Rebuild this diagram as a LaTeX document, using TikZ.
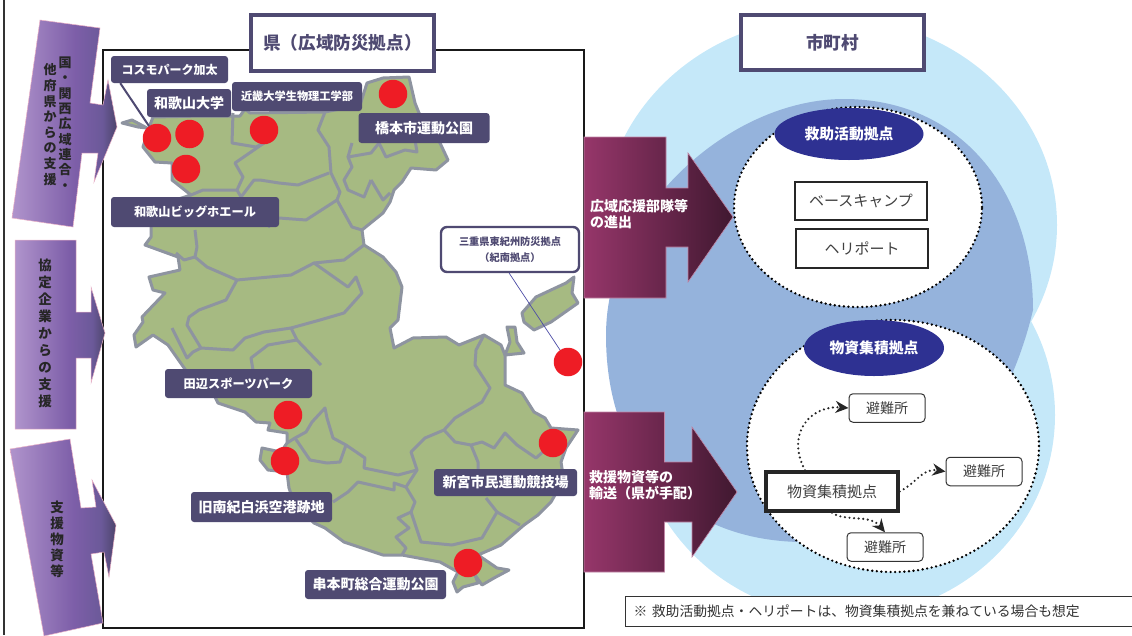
\documentclass[tikz,border=0pt]{standalone}
\usepackage{xcolor}
\usepackage{fontspec}
\setmainfont{Noto Sans CJK JP}
\usepackage{tikz}
\usetikzlibrary{positioning, shapes.geometric, arrows.meta}

\definecolor{tagblue}{HTML}{4F4A72}
\definecolor{landgreen}{HTML}{A6BA82}
\definecolor{cityline}{HTML}{8E94A0}
\definecolor{paleblue}{HTML}{C5E8F9}
\definecolor{midblue}{HTML}{95B3DC}
\definecolor{navy}{HTML}{2E3192}
\definecolor{dotred}{HTML}{EE1C25}
\definecolor{plum}{HTML}{96366A}
\definecolor{darkplum}{HTML}{401830}
\pgfdeclarehorizontalshading{purplefade}{100bp}{rgb(0bp)=(0.69,0.58,0.80);rgb(25bp)=(0.69,0.58,0.80);rgb(55bp)=(0.49,0.37,0.66);rgb(68bp)=(0.42,0.35,0.60);rgb(75bp)=(0.30,0.27,0.42);rgb(100bp)=(0.30,0.27,0.42)}

\begin{document}
\begin{tikzpicture}[x=1pt,y=-1pt]
	\tikzstyle{sitetag}=[fill=tagblue,text=white,rounded corners=3pt,inner sep=0pt,font=\fontsize{14}{16}\selectfont\bfseries]
	\tikzstyle{reddot}=[ellipse,fill=dotred,inner sep=0pt,minimum width=28.5pt,minimum height=28.5pt]
	\tikzstyle{titlebox}=[draw=tagblue,line width=3.2pt,fill=white,text=tagblue,inner sep=0pt,font=\fontsize{17.6}{20}\selectfont\bfseries]
	\tikzstyle{bighub}=[ellipse,draw=black,fill=white,line width=2.6pt,dash pattern=on 0pt off 4.6pt,line cap=round,inner sep=0pt]
	\tikzstyle{hubname}=[ellipse,fill=navy,text=white,inner sep=0pt,font=\fontsize{14.8}{17}\selectfont\bfseries]
	\tikzstyle{campbox}=[draw=black!85,line width=2.8pt,fill=white,text=black!75,inner sep=0pt,font=\fontsize{15}{18}\selectfont]
	\tikzstyle{shelter}=[draw=black!80,fill=white,rounded corners=4pt,line width=1pt,text=black!75,minimum width=76pt,minimum height=28.5pt,inner sep=0pt,font=\fontsize{14}{16}\selectfont]
	\tikzstyle{dotarrow}=[line width=2.4pt,dash pattern=on 0pt off 4.6pt,line cap=round,black!85,-{Stealth[length=13pt,width=12pt]}]
	\tikzstyle{cityborder}=[draw=cityline,line width=3pt,line join=round]
	\tikzstyle{coast}=[fill=landgreen,draw=cityline,line width=3pt,line join=round]
	\tikzstyle{supportarrow}=[shading=purplefade,draw=white!70!purple,line width=0.5pt]
	\tikzstyle{marcharrow}=[left color=plum,right color=darkplum,draw=plum!60!white,line width=0.6pt]
	\tikzstyle{sidetext}=[align=center,inner sep=0pt,text=black!85,font=\fontsize{13.5}{16}\selectfont\bfseries]
	\tikzstyle{marchtext}=[align=left,inner sep=0pt,anchor=west,text=white,font=\fontsize{14}{16}\selectfont\bfseries]

	\useasboundingbox (0,0) rectangle (1132,635);
	\draw[line width=1.4pt,black!80] (4,0) -- (4,635);

	% city area
	\fill[paleblue] (830,225) ellipse [x radius=227,y radius=208];
	\fill[paleblue] (845,415) ellipse [x radius=210,y radius=202];
	\fill[midblue] (1033,310) .. controls (1033,190) and (960,99) .. (844,99) .. controls (730,99) and (606,210) .. (606,335) .. controls (606,470) and (690,540) .. (800,542) .. controls (900,545) and (1000,450) .. (1033,310) -- cycle;

	% prefecture frame
	\draw[line width=2.8pt,black!90,fill=white] (103,50) rectangle (584,628);

	% map
	\draw[coast] (122,123) -- (132,120) -- (147,128) -- (138,127) -- cycle;
	\draw[coast] (150,125) -- (153,117) -- (203,116) -- (240,116) -- (245,109) -- (250,113) -- (325,112) -- (360,105) -- (367,83) -- (383,78) -- (409,77) -- (415,103) -- (419,113) -- (440,143) -- (448,160) -- (436,170) -- (411,168) -- (402,182) -- (394,190) -- (390,202) -- (383,213) -- (362,230) -- (364,245) -- (383,257) -- (396,272) -- (402,287) -- (398,320) -- (390,328) -- (394,348) -- (413,338) -- (446,337) -- (459,345) -- (484,335) -- (501,345) -- (505,355) -- (505,385) -- (522,393) -- (534,412) -- (545,418) -- (551,428) -- (578,430) -- (566,448) -- (561,462) -- (563,475) -- (555,495) -- (551,502) -- (538,515) -- (524,525) -- (501,545) -- (478,555) -- (497,568) -- (509,570) -- (494,578) -- (482,585) -- (475,575) -- (478,583) -- (463,587) -- (457,592) -- (453,582) -- (458,572) -- (440,562) -- (402,555) -- (383,555) -- (344,542) -- (325,528) -- (314,523) -- (295,505) -- (289,488) -- (287,472) -- (268,470) -- (260,460) -- (262,448) -- (281,452) -- (287,443) -- (287,433) -- (268,430) -- (270,423) -- (256,422) -- (245,412) -- (218,403) -- (214,395) -- (187,372) -- (168,345) -- (153,335) -- (136,347) -- (134,335) -- (143,322) -- (142,317) -- (165,293) -- (153,290) -- (149,277) -- (180,270) -- (178,257) -- (145,245) -- (151,237) -- (151,227) -- (160,205) -- (191,195) -- (172,180) -- (172,163) -- (155,162) -- (143,147) -- cycle;
	\draw[coast] (522,313) -- (536,297) -- (566,283) -- (574,277) -- (572,293) -- (578,303) -- (561,315) -- (551,322) -- (534,330) -- (524,322) -- cycle;
	\draw[coast] (507,327) -- (515,327) -- (517,342) -- (524,353) -- (505,355) -- (510,342) -- cycle;

	% city borders
	\draw[cityborder] (325,112) -- (318,130) -- (329,147) -- (331,173) -- (340,192) -- (337,200) -- (352,227) -- (362,230);
	\draw[cityborder] (337,200) -- (306,220) -- (279,218) -- (268,227);
	\draw[cityborder] (241,197) -- (254,180) -- (260,180) -- (279,183) -- (298,185) -- (329,173);
	\draw[cityborder] (264,143) -- (235,163) -- (243,177) -- (237,190) -- (203,190) -- (191,195);
	\draw[cityborder] (233,113) -- (232,143) -- (256,147) -- (264,143) -- (270,125);
	\draw[cityborder] (241,197) -- (237,190);
	\draw[cityborder] (195,230) -- (197,247) -- (195,257) -- (207,267) -- (237,280) -- (291,275) -- (314,263) -- (344,260) -- (364,245);
	\draw[cityborder] (176,253) -- (184,260) -- (195,257);
	\draw[cityborder] (237,280) -- (226,300) -- (199,310) -- (189,317) -- (187,325) -- (201,348) -- (233,350) -- (245,338) -- (264,332) -- (291,328) -- (297,340) -- (321,365);
	\draw[cityborder] (172,328) -- (187,358) -- (193,352) -- (201,348);
	\draw[cityborder] (314,263) -- (348,287) -- (356,277) -- (362,293) -- (344,313) -- (320,320) -- (291,328);
	\draw[cityborder] (297,340) -- (268,345) -- (251,358) -- (253,370);
	\draw[cityborder] (484,335) -- (476,350) -- (475,365) -- (490,388) -- (482,402) -- (455,418) -- (444,430) -- (425,438) -- (411,452) -- (417,470) -- (398,475) -- (364,468) -- (365,458) -- (346,445) -- (333,438) -- (327,418) -- (325,408) -- (312,422) -- (306,432) -- (295,438) -- (287,443);
	\draw[cityborder] (346,445) -- (340,462) -- (327,463) -- (310,460) -- (295,438);
	\draw[cityborder] (417,470) -- (406,487) -- (394,483) -- (394,490) -- (358,482) -- (348,492) -- (333,502);
	\draw[cityborder] (406,487) -- (415,502) -- (411,512) -- (398,518) -- (409,528) -- (396,537) -- (406,548) -- (402,555);
	\draw[cityborder] (411,512) -- (421,542) -- (452,545) -- (482,538) -- (497,512) -- (520,525);
	\draw[cityborder] (486,498) -- (497,512);
	\draw[cityborder] (444,430) -- (455,442) -- (471,445) -- (482,442) -- (494,448) -- (505,433) -- (517,445) -- (536,458) -- (545,450);
	\draw[cityborder] (471,445) -- (478,462) -- (478,475);
	\draw[cityborder] (371,180) -- (364,197) -- (348,190) -- (344,180) -- (352,167) -- (348,157) -- (371,153) -- (379,143) -- (386,157) -- (405,150) -- (417,152) -- (415,140);
	\draw[cityborder] (371,180) -- (383,200) -- (390,193);
	\draw[cityborder] (352,143) -- (348,157);

	% red sites
	\node[reddot](d1) at (157,138) {};
	\node[reddot](d2) at (189.5,134) {};
	\node[reddot](d3) at (186,169) {};
	\node[reddot](d4) at (264,130) {};
	\node[reddot](d5) at (393,94) {};
	\node[reddot](d6) at (568,362) {};
	\node[reddot](d7) at (288,415) {};
	\node[reddot](d8) at (285,461) {};
	\node[reddot](d9) at (553,443) {};
	\node[reddot](d10) at (468,563) {};

	% site names
	\node[sitetag,minimum width=117pt,minimum height=27pt,font=\fontsize{12}{14}\selectfont\bfseries](t1) at (169.5,69.5) {コスモパーク加太};
	\node[sitetag,minimum width=84pt,minimum height=28pt](t2) at (189,103) {和歌山大学};
	\node[sitetag,minimum width=130pt,minimum height=29pt,font=\fontsize{11.2}{13}\selectfont\bfseries](t3) at (297,96.5) {近畿大学生物理工学部};
	\node[sitetag,minimum width=131pt,minimum height=30pt](t4) at (424,128) {橋本市運動公園};
	\node[sitetag,minimum width=168pt,minimum height=30pt,font=\fontsize{12.2}{14}\selectfont\bfseries](t5) at (195,212) {和歌山ビッグホエール};
	\node[sitetag,minimum width=147pt,minimum height=29pt,font=\fontsize{12.2}{14}\selectfont\bfseries](t6) at (238.5,383.5) {田辺スポーツパーク};
	\node[sitetag,minimum width=141pt,minimum height=30pt](t7) at (261.5,507) {旧南紀白浜空港跡地};
	\node[sitetag,minimum width=143pt,minimum height=27pt](t8) at (505.5,482.5) {新宮市民運動競技場};
	\node[sitetag,minimum width=141pt,minimum height=29pt](t9) at (375.5,584.5) {串本町総合運動公園};
	\node[draw=tagblue,line width=2.4pt,fill=white,rounded corners=6pt,text=tagblue,align=center,inner sep=0pt,minimum width=138pt,minimum height=45pt,font=\fontsize{10.2}{16.5}\selectfont\bfseries](t10) at (510,249.5) {三重県東紀州防災拠点\\（紀南拠点）};
	\draw[tagblue,line width=2pt] (t1.south west) ++(9.5,0) -- (d1);
	\draw[blue!50!black!70,line width=0.7pt] (t10.-92) -- (d6);

	% title boxes
	\node[titlebox,minimum width=183pt,minimum height=56pt](pref) at (342.5,43) {県（広域防災拠点）};
	\node[titlebox,minimum width=183pt,minimum height=55pt](city) at (832.5,42.5) {市町村};

	% support arrows
	\path[supportarrow] (40,20) -- (100,28) -- (90,103) -- (103,105) -- (108,80) -- (117,127) -- (94,182) -- (98,153) -- (82,153) -- (73,227) -- (12,218) -- cycle;
	\path[supportarrow] (15,240) -- (76,240) -- (76,312) -- (91,312) -- (91,287) -- (105,333) -- (91,383) -- (91,358) -- (76,358) -- (76,429) -- (15,429) -- cycle;
	\path[supportarrow] (10,449) -- (70,439) -- (81,508) -- (96,507) -- (92,480) -- (116,525) -- (109,577) -- (104,552) -- (91,554) -- (103,623) -- (44,636) -- cycle;
	\node[sidetext,font=\fontsize{13}{15.3}\selectfont\bfseries](s1) at (65,123.5) {国\\・\\関\\西\\広\\域\\連\\合\\・};
	\node[sidetext,font=\fontsize{13}{15.6}\selectfont\bfseries](s2) at (50,124.5) {他\\府\\県\\か\\ら\\の\\支\\援};
	\node[sidetext,font=\fontsize{13.5}{17}\selectfont\bfseries](s3) at (45,333) {協\\定\\企\\業\\か\\ら\\の\\支\\援};
	\node[sidetext](s4) at (57,539.5) {支\\援\\物\\資\\等};

	% march arrows
	\path[marcharrow] (584,137) -- (666,137) -- (666,188) -- (688,188) -- (688,153) -- (733,217) -- (688,282) -- (688,247) -- (666,247) -- (666,298) -- (584,298) -- cycle;
	\path[marcharrow] (584,412) -- (664.5,412) -- (664.5,462) -- (692,462) -- (692,427) -- (737,492) -- (692,557) -- (692,522) -- (664.5,522) -- (664.5,572) -- (584,572) -- cycle;
	\node[marchtext](m1) at (590,214) {広域応援部隊等\\の進出};
	\node[marchtext](m2) at (589,485.5) {救援物資等の\\輸送（県が手配）};

	% rescue base
	\node[bighub,minimum width=248pt,minimum height=200pt](rescue) at (858,207) {};
	\node[hubname,minimum width=149pt,minimum height=52pt](rescuename) at (849,134) {救助活動拠点};
	\node[campbox,minimum width=132pt,minimum height=38pt](camp) at (861,201) {ベースキャンプ};
	\node[campbox,minimum width=132pt,minimum height=39pt](heli) at (862,248.5) {ヘリポート};

	% goods base
	\node[bighub,minimum width=292pt,minimum height=252pt](goods) at (893,446) {};
	\node[hubname,minimum width=140pt,minimum height=56pt](goodsname) at (874,348) {物資集積拠点};
	\node[campbox,line width=3.4pt,minimum width=132pt,minimum height=39pt](hub) at (832,491.5) {物資集積拠点};
	\node[shelter](s5) at (887,408) {避難所};
	\node[shelter](s6) at (984,471.5) {避難所};
	\node[shelter](s7) at (885,547) {避難所};
	\draw[dotarrow] (hub.north) ++(-27,0) .. controls (785,432) and (812,405) .. (s5.west);
	\draw[dotarrow] (hub.east) .. controls (918,482) and (922,468) .. (s6.west);
	\draw[dotarrow] (hub.south) .. controls (845,522) and (870,514) .. (s7.north);

	% note
	\node[draw=black!80,fill=white,line width=1pt,minimum width=510pt,minimum height=30pt,inner sep=0pt,inner xsep=8pt,text=black!80,anchor=west,text width=494pt,font=\fontsize{13.8}{16}\selectfont](note) at (625,611) {※ 救助活動拠点・ヘリポートは、物資集積拠点を兼ねている場合も想定};
\end{tikzpicture}
\end{document}
